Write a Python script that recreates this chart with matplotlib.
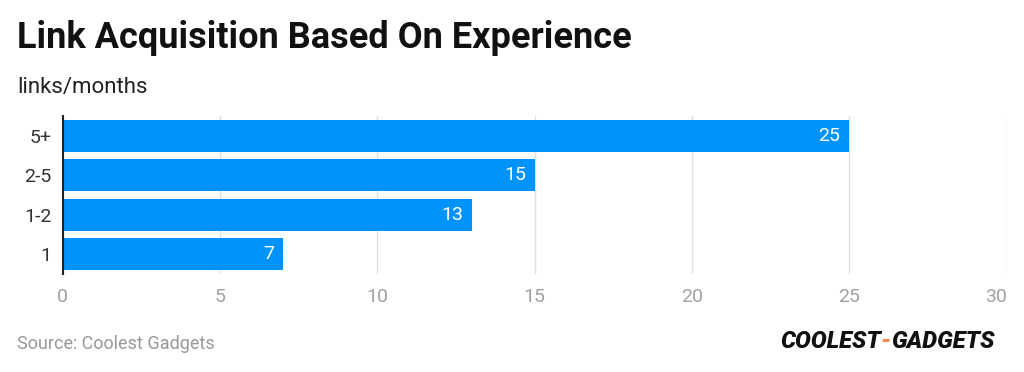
import matplotlib
matplotlib.use("Agg")
import matplotlib.pyplot as plt

categories = ["1", "1-2", "2-5", "5+"]
values = [7, 13, 15, 25]
xticks = [0, 5, 10, 15, 20, 25, 30]

plt.rcParams['font.family'] = ['Roboto', 'DejaVu Sans']

fig = plt.figure(figsize=(10.24, 3.72), dpi=100)
ax = fig.add_axes([62.5/1024, 1-273.7/372, (1006.5-62.5)/1024, (273.7-116.3)/372])

bar_color = "#0093FB"
y = range(len(categories))
ax.barh(list(y), values, height=0.82, color=bar_color, zorder=3)
for yi, v in zip(y, values):
    ax.text(v - 0.28, yi, str(v), ha="right", va="center", color="white", fontsize=14, zorder=4)

ax.set_xlim(0, 30)
ax.set_ylim(-0.5, len(categories) - 0.5)
ax.set_xticks(xticks)
ax.set_xticklabels([str(t) for t in xticks], color="#A0A0A0", fontsize=14)
ax.get_xticklabels()[-1].set_horizontalalignment("right")
ax.set_yticks(list(y))
ax.set_yticklabels(categories, color="#333333", fontsize=14)
ax.tick_params(axis="x", length=0, pad=10)
ax.tick_params(axis="y", length=0, pad=8)
ax.grid(axis="x", color="#E0E0E0", linewidth=1, zorder=0)
for s in ["top", "right", "bottom"]:
    ax.spines[s].set_visible(False)
ax.spines["left"].set_color("#222222")
ax.spines["left"].set_linewidth(1.5)
ax.spines["left"].set_zorder(5)

fig.text(17/1024, 1-38/372, "Link Acquisition Based On Experience", fontsize=26, fontweight="bold",
         va="center", ha="left", color="#111111")
fig.text(17/1024, 1-88/372, "links/months", fontsize=16, va="center", ha="left", color="#222222")
fig.text(17/1024, 1-344/372, "Source: Coolest Gadgets", fontsize=13, va="center", ha="left", color="#999999")

# logo approximation
lx, ly = 780/1024, 1-341/372
t1 = fig.text(lx, ly, "COOLEST", fontsize=17, fontweight="heavy", fontstyle="italic",
              va="center", ha="left", color="#111111")
fig.canvas.draw()
bb = t1.get_window_extent()
t2 = fig.text(bb.x1/1024, ly, "-", fontsize=17, fontweight="heavy", fontstyle="italic",
              va="center", ha="left", color="#F0874A")
fig.canvas.draw()
bb2 = t2.get_window_extent()
fig.text(bb2.x1/1024, ly, "GADGETS", fontsize=17, fontweight="heavy", fontstyle="italic",
         va="center", ha="left", color="#111111")

fig.savefig("out.png", dpi=100, facecolor="white")
